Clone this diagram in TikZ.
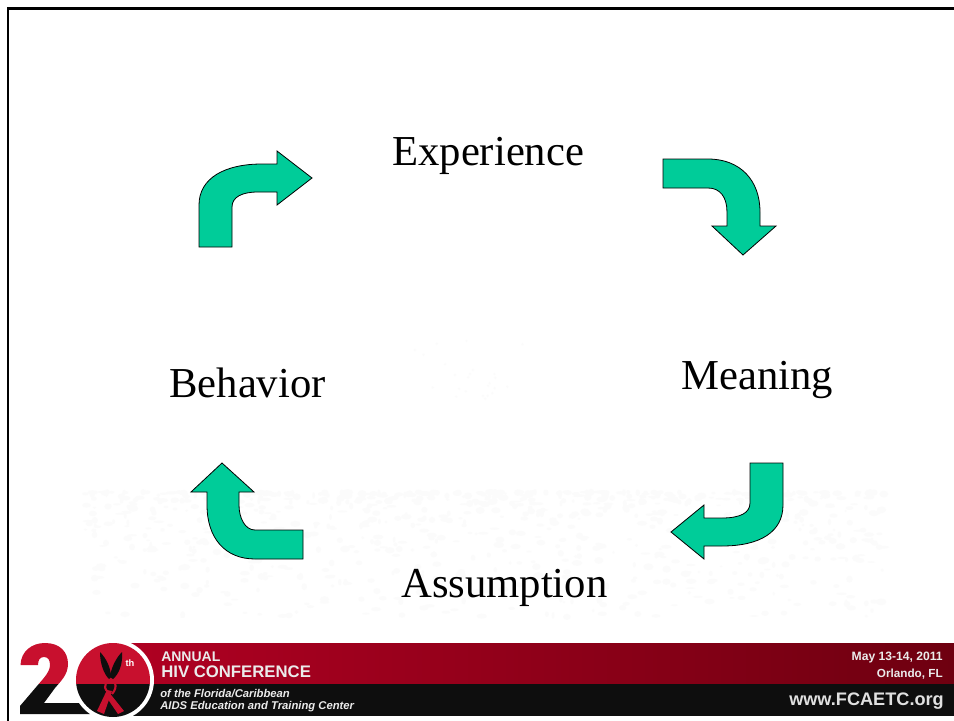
\documentclass[tikz,border=0pt]{standalone}
\usepackage{fontspec}
\setmainfont{Liberation Serif}
\newfontfamily\hvfont{Liberation Sans}
\definecolor{arrowgreen}{HTML}{00CC99}
\definecolor{bandred}{HTML}{B00022}
\definecolor{banddark}{HTML}{6E0010}
\definecolor{logored}{HTML}{C8102E}
\definecolor{logoblack}{HTML}{0E0E0E}
\tikzset{
  x=0.75pt,y=-0.75pt,
  bigarrow/.style={draw=black,line width=0.6pt,fill=arrowgreen,line join=miter},
  cyclelabel/.style={anchor=base west,inner sep=0pt,font=\fontsize{32}{36}\selectfont},
  bandtext/.style={inner sep=0pt,text=white!92!black},
}
\begin{document}
\begin{tikzpicture}
\useasboundingbox (0,0) rectangle (954,721);
\fill[white] (0,0) rectangle (954,721);
% faint mottled background
\pgfmathsetseed{20}
\foreach \i in {1,...,900}{
  \pgfmathsetmacro{\px}{85+rnd*800}
  \pgfmathsetmacro{\u}{rnd}
  \pgfmathsetmacro{\py}{492+\u*\u*125}
  \pgfmathsetmacro{\rx}{1+rnd*3}
  \pgfmathsetmacro{\ry}{0.6+rnd*2}
  \fill[black!1.5] (\px,\py) ellipse[x radius=\rx pt,y radius=\ry pt];
}
\foreach \i in {1,...,24}{
  \pgfmathsetmacro{\px}{405+rnd*120}
  \pgfmathsetmacro{\py}{335+rnd*65}
  \fill[black!1.5] (\px,\py) circle[radius=1pt];
}
% frame
\draw[line width=2.2pt,black] (8,721) -- (8,8.5) -- (954,8.5);
% labels
\node[cyclelabel] (experience) at (392,165) {Experience};
\node[cyclelabel] (meaning) at (681,389) {Meaning};
\node[cyclelabel] (assumption) at (401,597) {Assumption};
\node[cyclelabel] (behavior) at (169,397) {Behavior};
% arrows
\draw[bigarrow] (199,247) -- (199,205) .. controls (199,178) and (225,164) .. (262,164)
  -- (277,164) -- (277,151) -- (312,178) -- (277,205) -- (277,192) -- (258,192)
  .. controls (242,192) and (232,197) .. (232,207) -- (232,247) -- cycle;
\draw[bigarrow] (663,159) -- (708,159) .. controls (740,159) and (760,180) .. (760,212)
  -- (760,226) -- (776,226) -- (743,255) -- (712,226) -- (727,226) -- (727,212)
  .. controls (727,197) and (720,188) .. (708,188) -- (663,188) -- cycle;
\draw[bigarrow] (783,463) -- (783,505) .. controls (783,532) and (760,546) .. (722,546)
  -- (704,546) -- (704,559) -- (671,532) -- (704,505) -- (704,518) -- (722,518)
  .. controls (740,518) and (750,513) .. (750,503) -- (750,463) -- cycle;
\draw[bigarrow] (303,559) -- (303,530) -- (255,530) .. controls (245,530) and (239,518) .. (239,505)
  -- (239,492) -- (254,492) -- (222,463) -- (191,492) -- (207,492) -- (207,505)
  .. controls (207,538) and (225,559) .. (255,559) -- cycle;
% footer band
\shade[left color=bandred,right color=banddark] (120,643) rectangle (954,684);
\fill[logoblack] (120,684) rectangle (954,716);
% numeral 2
\begin{scope}
\clip (20.5,665) .. controls (21,651) and (32,643) .. (45,643)
  .. controls (60,643) and (68,652) .. (68,664) .. controls (68,675) and (60,682) .. (55,688)
  -- (44,703) -- (90,703) -- (90,714) -- (20,714) -- (20,706) -- (43,679)
  .. controls (48,673) and (50,669) .. (50,665) .. controls (50,660) and (48,657) .. (44,657)
  .. controls (40,657) and (38,660) .. (38,665) -- cycle;
\fill[logored] (0,640) rectangle (100,684);
\fill[logoblack] (0,684) rectangle (100,720);
\end{scope}
% emblem
\fill[white] (113,680) circle[radius=41];
\begin{scope}
\clip (113,680) circle[radius=37];
\fill[logored] (70,640) rectangle (155,684);
\fill[logoblack] (70,684) rectangle (155,720);
\end{scope}
\fill[logoblack] (100,652) .. controls (100,664) and (104,674) .. (109,679) -- (111,677)
  .. controls (111,668) and (106,658) .. (100,652) -- cycle;
\fill[logoblack] (122,652) .. controls (123,664) and (119,674) .. (113,679) -- (110,677)
  .. controls (111,668) and (116,658) .. (122,652) -- cycle;
\draw[logored,line width=1.6pt] (108,692) .. controls (101,686) and (108,680) .. (111,680)
  .. controls (114,680) and (119,686) .. (112,694);
\fill[logored] (112,691) -- (104,714) -- (97,711) -- (107,690) -- cycle;
\fill[logored] (108,691) -- (124,711) -- (118,714) -- (105,695) -- cycle;
\node[inner sep=0pt,text=white,font=\hvfont\bfseries\fontsize{7}{8}\selectfont] (th) at (130,663) {th};
% footer texts
\node[bandtext,anchor=base west,font=\hvfont\bfseries\fontsize{10.5}{12}\selectfont] (annual) at (161,661) {ANNUAL};
\node[bandtext,anchor=base west,font=\hvfont\bfseries\fontsize{12.55}{14}\selectfont] (hiv) at (161,677) {HIV CONFERENCE};
\node[bandtext,anchor=base west,font=\hvfont\bfseries\itshape\fontsize{8.45}{9}\selectfont] (florida) at (160,697) {of the Florida/Caribbean};
\node[bandtext,anchor=base west,font=\hvfont\bfseries\itshape\fontsize{8.45}{9}\selectfont] (aids) at (160,709) {AIDS Education and Training Center};
\node[bandtext,anchor=base east,font=\hvfont\bfseries\fontsize{9.1}{10}\selectfont] (date) at (943,660) {May 13-14, 2011};
\node[bandtext,anchor=base east,font=\hvfont\bfseries\fontsize{8.8}{10}\selectfont] (place) at (943,677) {Orlando, FL};
\node[bandtext,anchor=base east,text=black!12,font=\hvfont\bfseries\fontsize{13.6}{15}\selectfont] (web) at (944,705) {www.FCAETC.org};
\end{tikzpicture}
\end{document}
